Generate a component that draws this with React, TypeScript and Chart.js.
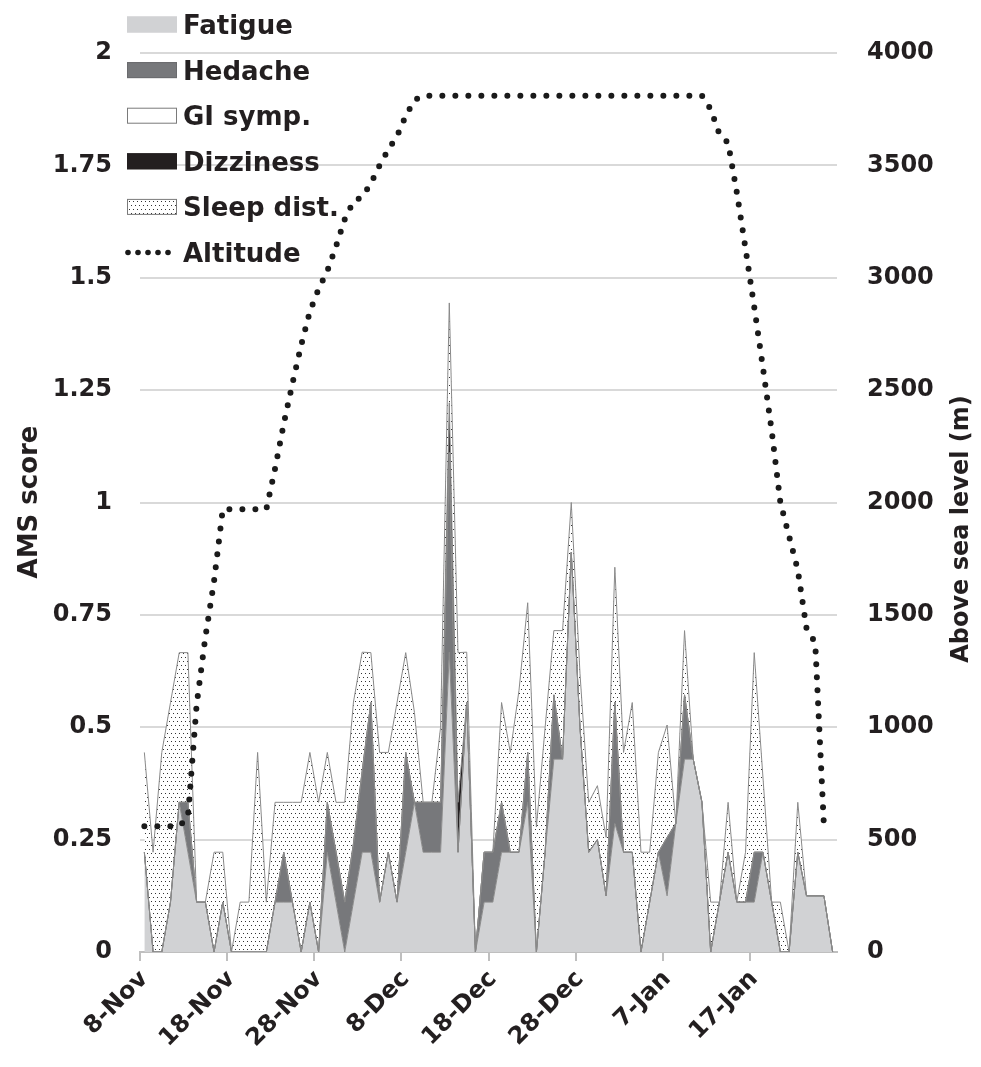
import { useEffect, useRef } from "react";
import { Chart, registerables } from "chart.js";

Chart.register(...registerables);

// ---- Data ----
const dates = [
  "8-Nov", "9-Nov", "10-Nov", "11-Nov", "12-Nov", "13-Nov", "14-Nov", "15-Nov", "16-Nov", "17-Nov",
  "18-Nov", "19-Nov", "20-Nov", "21-Nov", "22-Nov", "23-Nov", "24-Nov", "25-Nov", "26-Nov", "27-Nov",
  "28-Nov", "29-Nov", "30-Nov", "1-Dec", "2-Dec", "3-Dec", "4-Dec", "5-Dec", "6-Dec", "7-Dec",
  "8-Dec", "9-Dec", "10-Dec", "11-Dec", "12-Dec", "13-Dec", "14-Dec", "15-Dec", "16-Dec", "17-Dec",
  "18-Dec", "19-Dec", "20-Dec", "21-Dec", "22-Dec", "23-Dec", "24-Dec", "25-Dec", "26-Dec", "27-Dec",
  "28-Dec", "29-Dec", "30-Dec", "31-Dec", "1-Jan", "2-Jan", "3-Jan", "4-Jan", "5-Jan", "6-Jan",
  "7-Jan", "8-Jan", "9-Jan", "10-Jan", "11-Jan", "12-Jan", "13-Jan", "14-Jan", "15-Jan", "16-Jan",
  "17-Jan", "18-Jan", "19-Jan", "20-Jan", "21-Jan", "22-Jan", "23-Jan", "24-Jan", "25-Jan", "26-Jan",
];

const fatigue = [
  0.222, 0, 0, 0.111, 0.333, 0.222, 0.111, 0.111, 0, 0.111,
  0, 0, 0, 0, 0, 0.111, 0.111, 0.111, 0, 0.111,
  0, 0.222, 0.111, 0, 0.111, 0.222, 0.222, 0.111, 0.222, 0.111,
  0.222, 0.333, 0.222, 0.222, 0.222, 0.667, 0.222, 0.556, 0, 0.111,
  0.111, 0.222, 0.222, 0.222, 0.333, 0, 0.222, 0.429, 0.429, 0.889,
  0.5, 0.222, 0.25, 0.125, 0.286, 0.222, 0.222, 0, 0.111, 0.222,
  0.125, 0.286, 0.429, 0.429, 0.333, 0, 0.111, 0.222, 0.111, 0.111,
  0.111, 0.222, 0.111, 0, 0, 0.222, 0.125, 0.125, 0.125, 0,
];

const headache = [
  0, 0, 0, 0, 0, 0.111, 0, 0, 0, 0,
  0, 0, 0, 0, 0, 0, 0.111, 0, 0, 0,
  0, 0.111, 0.111, 0.111, 0.13, 0.18, 0.333, 0, 0, 0,
  0.222, 0, 0.111, 0.111, 0.111, 0.444, 0, 0, 0, 0.111,
  0.111, 0.111, 0, 0, 0.111, 0, 0, 0.143, 0, 0,
  0, 0, 0, 0, 0.27, 0, 0, 0, 0, 0,
  0.13, 0, 0.143, 0, 0, 0, 0, 0, 0, 0,
  0.111, 0, 0, 0, 0, 0, 0, 0, 0, 0,
];

const giSymp = [
  0, 0, 0, 0, 0, 0, 0, 0, 0, 0,
  0, 0, 0, 0, 0, 0, 0, 0, 0, 0,
  0, 0, 0, 0, 0, 0, 0, 0, 0, 0,
  0, 0, 0, 0, 0, 0, 0, 0, 0, 0,
  0, 0, 0, 0, 0, 0, 0, 0, 0, 0,
  0, 0, 0, 0, 0, 0, 0, 0, 0, 0,
  0, 0, 0, 0, 0, 0, 0, 0, 0, 0,
  0, 0, 0, 0, 0, 0, 0, 0, 0, 0,
];

const dizziness = [
  0, 0, 0, 0, 0, 0, 0, 0, 0, 0,
  0, 0, 0, 0, 0, 0, 0, 0, 0, 0,
  0, 0, 0, 0, 0, 0, 0, 0, 0, 0,
  0, 0, 0, 0, 0, 0.111, 0.111, 0, 0, 0,
  0, 0, 0, 0, 0, 0, 0, 0, 0, 0,
  0, 0, 0, 0, 0, 0, 0, 0, 0, 0,
  0, 0, 0, 0, 0, 0, 0, 0, 0, 0,
  0, 0, 0, 0, 0, 0, 0, 0, 0, 0,
];

const sleepDist = [
  0.222, 0.222, 0.444, 0.444, 0.333, 0.333, 0, 0, 0.222, 0.111,
  0, 0.111, 0.111, 0.444, 0.111, 0.222, 0.111, 0.222, 0.333, 0.333,
  0.333, 0.111, 0.111, 0.222, 0.315, 0.265, 0.111, 0.333, 0.222, 0.444,
  0.222, 0.2, 0, 0, 0.167, 0.222, 0.333, 0.111, 0, 0,
  0, 0.222, 0.222, 0.36, 0.333, 0.278, 0.278, 0.143, 0.286, 0.111,
  0.12, 0.111, 0.12, 0.13, 0.3, 0.222, 0.333, 0.222, 0.111, 0.222,
  0.25, 0, 0.143, 0, 0, 0.111, 0, 0.111, 0, 0.111,
  0.444, 0.167, 0, 0.111, 0, 0.111, 0, 0, 0, 0,
];

const altitude: (number | null)[] = [
  560, 560, 560, 560, 560, 600, 1100, 1400, 1650, 1970,
  1970, 1970, 1970, 1970, 1970, 2150, 2350, 2530, 2700, 2850,
  2950, 3030, 3140, 3260, 3340, 3360, 3420, 3500, 3570, 3630,
  3720, 3790, 3810, 3810, 3810, 3810, 3810, 3810, 3810, 3810,
  3810, 3810, 3810, 3810, 3810, 3810, 3810, 3810, 3810, 3810,
  3810, 3810, 3810, 3810, 3810, 3810, 3810, 3810, 3810, 3810,
  3810, 3810, 3810, 3810, 3810, 3750, 3640, 3600, 3380, 3130,
  2870, 2600, 2320, 2000, 1850, 1700, 1440, 1376, 560, null,
];

const leftTicks = [0, 0.25, 0.5, 0.75, 1, 1.25, 1.5, 1.75, 2];
const rightTicks = [0, 500, 1000, 1500, 2000, 2500, 3000, 3500, 4000];

const FONT = '"DejaVu Sans", "Liberation Sans", Arial, sans-serif';
const TEXT = "#231f20";

function makeDots(): CanvasPattern | string {
  const c = document.createElement("canvas");
  c.width = 8;
  c.height = 8;
  const g = c.getContext("2d");
  if (!g) return "#eeeeee";
  g.fillStyle = "#ffffff";
  g.fillRect(0, 0, 8, 8);
  g.fillStyle = "#333333";
  g.fillRect(1, 1, 1, 1);
  g.fillRect(5, 1, 1, 1);
  g.fillRect(3, 5, 1, 1);
  g.fillRect(7, 5, 1, 1);
  return g.createPattern(c, "repeat") || "#eeeeee";
}

const overlayPlugin = {
  id: "overlay",
  afterDatasetsDraw(chart: any) {
    const ctx: CanvasRenderingContext2D = chart.ctx;
    const ds = chart.data.datasets;
    const order = [1, 2, 3, 4, 5, 0];
    ctx.save();
    ctx.font = `bold 26px ${FONT}`;
    ctx.textAlign = "left";
    ctx.textBaseline = "alphabetic";
    order.forEach((di, k) => {
      const d = ds[di];
      const cy = 24.5 + k * 45.6;
      const sx = 127, sw = 50, sh = 16;
      if (di === 0) {
        ctx.fillStyle = "#1a1a1a";
        for (let j = 0; j < 5; j++) {
          ctx.beginPath();
          ctx.arc(sx + 1 + j * 10, cy, 2.8, 0, Math.PI * 2);
          ctx.fill();
        }
      } else {
        ctx.fillStyle = d.backgroundColor;
        ctx.fillRect(sx, cy - sh / 2, sw, sh);
        ctx.strokeStyle = d.legendBorder || d.backgroundColor;
        ctx.lineWidth = 1;
        ctx.strokeRect(sx + 0.5, cy - sh / 2 + 0.5, sw - 1, sh - 1);
      }
      ctx.fillStyle = TEXT;
      ctx.fillText(d.label, 183, cy + 9.5);
    });
    ctx.restore();
  },
  afterDraw(chart: any) {
    const ctx: CanvasRenderingContext2D = chart.ctx;
    ctx.save();
    ctx.font = `bold 26px ${FONT}`;
    ctx.fillStyle = TEXT;
    ctx.textAlign = "center";
    ctx.textBaseline = "middle";
    ctx.translate(30, 502);
    ctx.rotate(-Math.PI / 2);
    ctx.fillText("AMS score", 0, 0);
    ctx.restore();
    ctx.save();
    ctx.font = `bold 24px ${FONT}`;
    ctx.fillStyle = TEXT;
    ctx.textAlign = "center";
    ctx.textBaseline = "middle";
    ctx.translate(962, 529);
    ctx.rotate(-Math.PI / 2);
    ctx.fillText("Above sea level (m)", 0, 0);
    ctx.restore();
  },
};

export default function App() {
  const ref = useRef<HTMLCanvasElement>(null);

  useEffect(() => {
    if (!ref.current) return;
    const dots = makeDots();
    const areaCommon = {
      type: "line" as const,
      yAxisID: "y",
      borderColor: "#8a8a8a",
      borderWidth: 1,
      pointRadius: 0,
      tension: 0,
    };
    const chart = new Chart(ref.current, {
      type: "line",
      data: {
        labels: dates,
        datasets: [
          {
            type: "line",
            label: "Altitude",
            data: altitude,
            yAxisID: "y1",
            borderColor: "#1a1a1a",
            borderWidth: 6,
            borderDash: [0, 13],
            borderCapStyle: "round",
            pointRadius: 0,
            fill: false,
            tension: 0,
          },
          { ...areaCommon, label: "Fatigue", data: fatigue, backgroundColor: "#d1d2d4", fill: "origin", legendBorder: "#d1d2d4" },
          { ...areaCommon, label: "Hedache", data: headache, backgroundColor: "#77787b", fill: "-1", legendBorder: "#6a6b6e" },
          { ...areaCommon, label: "GI symp.", data: giSymp, backgroundColor: "#ffffff", fill: "-1", legendBorder: "#7a7a7a" },
          { ...areaCommon, label: "Dizziness", data: dizziness, backgroundColor: "#231f20", fill: "-1", legendBorder: "#231f20" },
          { ...areaCommon, label: "Sleep dist.", data: sleepDist, backgroundColor: dots, fill: "-1", legendBorder: "#7a7a7a" },
        ] as any,
      },
      options: {
        animation: false,
        responsive: true,
        maintainAspectRatio: false,
        layout: { padding: { top: 53, left: 0, right: 0, bottom: 0 } },
        plugins: {
          legend: { display: false },
          tooltip: { enabled: false },
          filler: { drawTime: "beforeDatasetsDraw" },
        } as any,
        scales: {
          x: {
            type: "category",
            offset: true,
            grid: {
              offset: true,
              drawOnChartArea: false,
              drawTicks: true,
              tickLength: 9,
              lineWidth: 2,
              color: (c: any) => (c.index % 10 === 0 ? "#bfbfbf" : "rgba(0,0,0,0)"),
            },
            border: { display: true, color: "#bfbfbf", width: 2 },
            ticks: {
              autoSkip: false,
              maxRotation: 45,
              minRotation: 45,
              padding: 4,
              color: TEXT,
              font: { family: FONT, weight: "bold", size: 24 },
              callback: (_v: any, i: number) => (i % 10 === 0 ? dates[i] : ""),
            },
            afterFit: (s: any) => {
              s.height = 115;
            },
          },
          y: {
            type: "linear",
            position: "left",
            stacked: true,
            min: 0,
            max: 2,
            afterBuildTicks: (s: any) => {
              s.ticks = leftTicks.map((v) => ({ value: v }));
            },
            grid: { color: "#d9d9d9", lineWidth: 2, drawTicks: false },
            border: { display: false },
            ticks: {
              padding: 28,
              color: TEXT,
              font: { family: FONT, weight: "bold", size: 24 },
              callback: (v: any) => `${v}`,
            },
            afterFit: (s: any) => {
              s.width = 140;
            },
          },
          y1: {
            type: "linear",
            position: "right",
            min: 0,
            max: 4000,
            afterBuildTicks: (s: any) => {
              s.ticks = rightTicks.map((v) => ({ value: v }));
            },
            grid: { drawOnChartArea: false, drawTicks: false },
            border: { display: false },
            ticks: {
              padding: 30,
              color: TEXT,
              font: { family: FONT, weight: "bold", size: 24 },
              callback: (v: any) => `${v}`,
            },
            afterFit: (s: any) => {
              s.width = 144;
            },
          },
        } as any,
      },
      plugins: [overlayPlugin],
    });
    return () => chart.destroy();
  }, []);

  return (
    <div style={{ position: "absolute", left: 0, top: 0, width: 981, height: 1067, background: "#fff" }}>
      <canvas ref={ref} />
    </div>
  );
}
